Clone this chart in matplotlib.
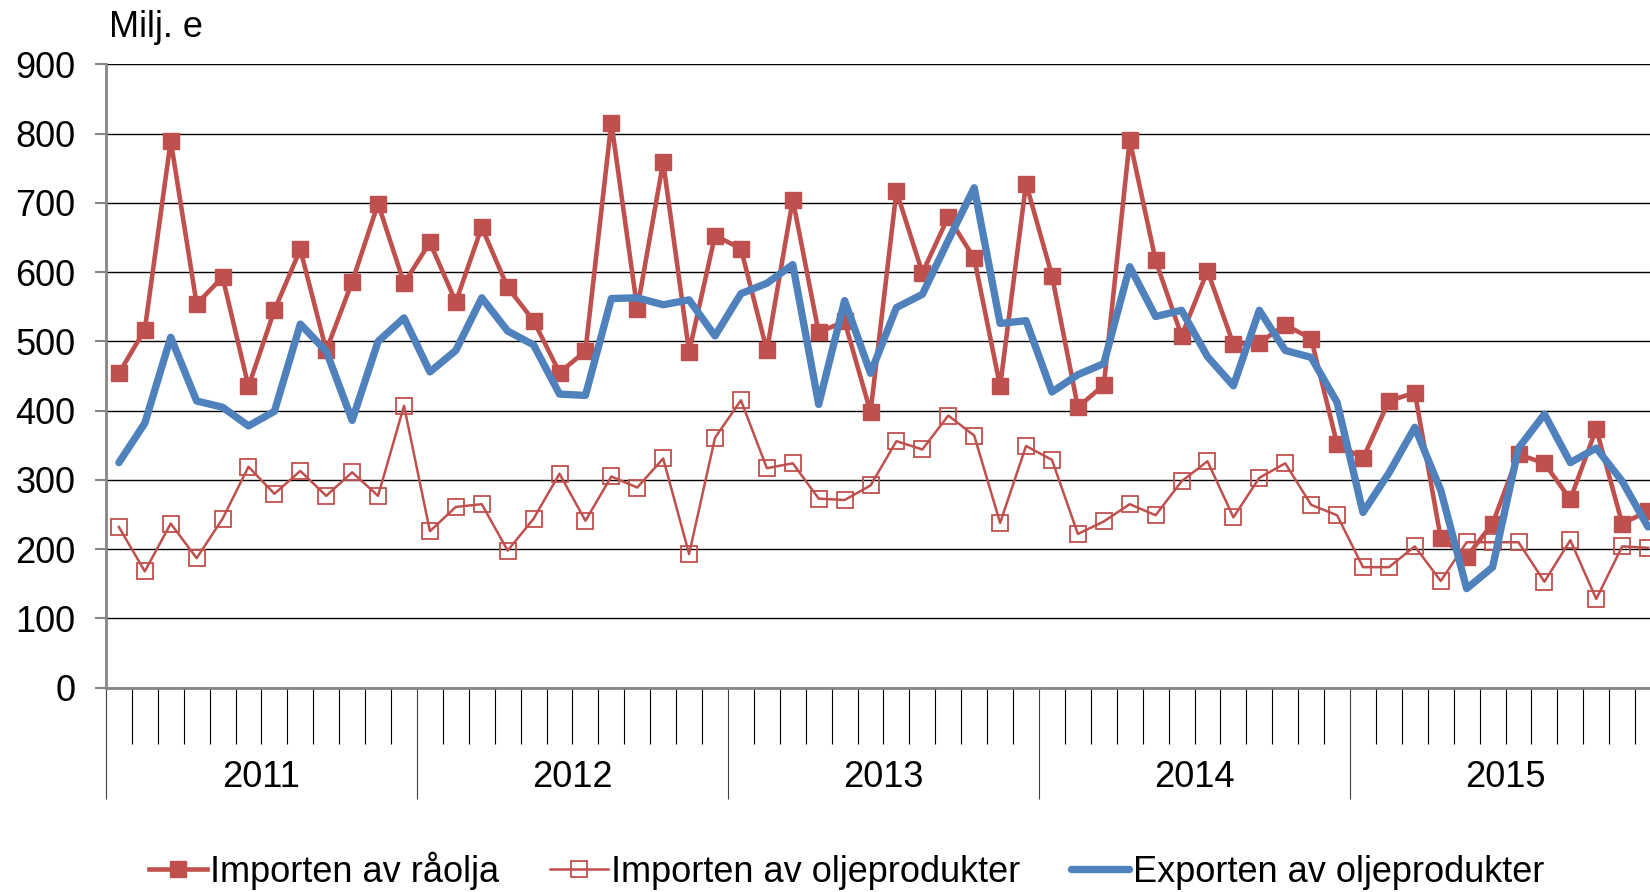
"""Monthly oil import / export values (Milj. e), 2011-2015."""
import matplotlib
matplotlib.use("Agg")
import matplotlib.pyplot as plt
import matplotlib.transforms as mtransforms

plt.rcParams["font.family"] = ["Liberation Sans", "DejaVu Sans"]

# months 1..60 = Jan 2011 .. Dec 2015
months = list(range(1, 61))
years = ["2011", "2012", "2013", "2014", "2015"]

crude_import = [
    454, 517, 790, 554, 593, 435, 545, 633, 487, 586, 699, 584,
    643, 557, 665, 578, 530, 455, 486, 816, 547, 759, 485, 653,
    634, 487, 705, 513, 529, 398, 717, 599, 680, 620, 435, 728,
    595, 405, 437, 791, 617, 508, 602, 496, 498, 524, 504, 352,
    331, 414, 426, 216, 189, 237, 337, 324, 272, 374, 237, 255,
]
products_import = [
    232, 168, 237, 187, 244, 319, 280, 313, 277, 311, 277, 407,
    226, 261, 265, 198, 244, 309, 241, 305, 289, 331, 193, 361,
    415, 317, 324, 273, 271, 292, 356, 344, 393, 364, 238, 349,
    329, 222, 240, 265, 249, 298, 327, 246, 303, 324, 264, 249,
    174, 174, 204, 154, 210, 210, 210, 153, 213, 128, 204, 202,
]
products_export = [
    325, 382, 506, 414, 405, 378, 399, 525, 486, 386, 500, 534,
    456, 487, 563, 515, 495, 424, 422, 562, 563, 553, 560, 508,
    569, 584, 611, 409, 559, 454, 549, 568, 646, 722, 526, 530,
    427, 452, 468, 608, 536, 545, 478, 436, 545, 487, 477, 412,
    253, 310, 376, 285, 143, 174, 346, 395, 325, 346, 298, 232,
]
labels = ["Importen av råolja", "Importen av oljeprodukter", "Exporten av oljeprodukter"]

RED = "#C0504D"
BLUE = "#4F81BD"
FS = 26

fig = plt.figure(figsize=(16.5, 8.92), dpi=100)
# plot area runs a little past the right edge of the picture, as in the original
ax = fig.add_axes([0.0642, 0.2291, 0.9425, 0.6986])

ax.plot(months, crude_import, color=RED, lw=3.3, marker="s", ms=11,
        mec=RED, mfc=RED, label=labels[0], zorder=3)
ax.plot(months, products_import, color=RED, lw=1.8, marker="s", ms=11,
        mfc="none", mec=RED, mew=1.3, label=labels[1], zorder=4)
ax.plot(months, products_export, color=BLUE, lw=5.3, solid_joinstyle="round",
        solid_capstyle="round", label=labels[2], zorder=5)

ax.set_ylim(0, 900)
ax.set_yticks(range(0, 901, 100))
ax.grid(axis="y", color="black", lw=1.0)
ax.set_axisbelow(True)
ax.tick_params(axis="y", labelsize=FS, length=8, width=1.5, color="#868686", pad=14)

ax.set_xlim(0.5, 60.5)
year_edges = [0.5 + 12 * i for i in range(6)]
month_edges = [m + 0.5 for m in range(61) if (m % 12) != 0]
ax.set_xticks(year_edges)
ax.set_xticks(month_edges, minor=True)
ax.set_xticklabels([])
ax.tick_params(axis="x", which="major", length=80, width=0.8, color="#404040")
ax.tick_params(axis="x", which="minor", length=40, width=0.8, color="black")

for side in ("top", "right"):
    ax.spines[side].set_visible(False)
for side in ("left", "bottom"):
    ax.spines[side].set_color("#868686")
    ax.spines[side].set_linewidth(2.0)
ax.spines["bottom"].set_zorder(6)

trans = mtransforms.blended_transform_factory(ax.transData, ax.transAxes)
for i, yr in enumerate(years):
    ax.text(6.5 + 12 * i, -0.145, yr, transform=trans, ha="center", va="center",
            fontsize=FS)

fig.text(109 / 1650, 1 - 37 / 892, "Milj. e", fontsize=FS, ha="left", va="baseline")

fig.legend(loc="center", bbox_to_anchor=(0.513, 0.024), ncol=3, frameon=False,
           fontsize=FS, handlelength=1.6, handletextpad=0.1, columnspacing=1.4,
           borderpad=0)

fig.savefig("out.png", dpi=100)
